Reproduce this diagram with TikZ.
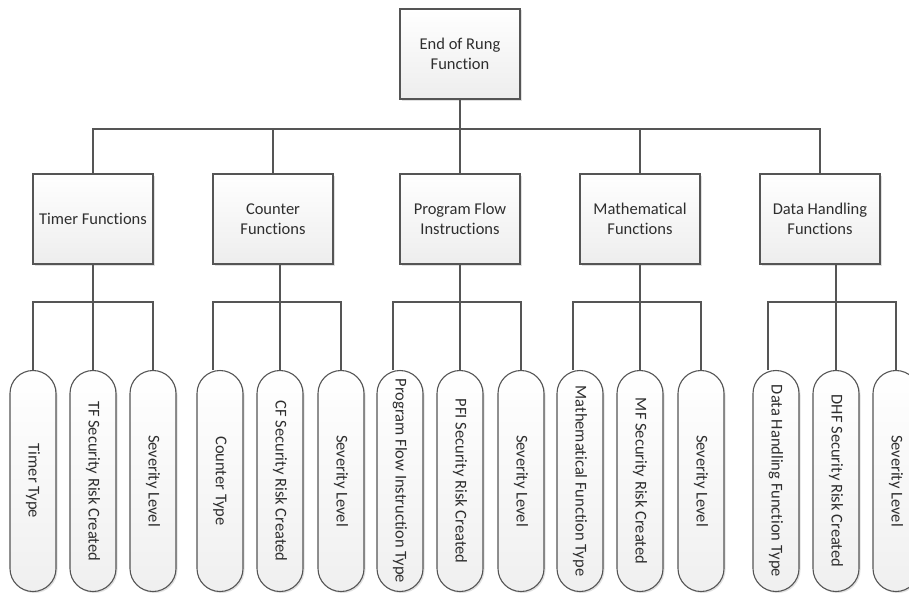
\documentclass[tikz,border=0pt]{standalone}
\usepackage{fontspec}
\setmainfont{Carlito}[Ligatures={NoCommon}]
\usetikzlibrary{shapes.misc,shadows}
\definecolor{txt}{HTML}{2E2E2E}
\definecolor{ln}{HTML}{555555}
\begin{document}
\begin{tikzpicture}[x=1pt,y=-1pt,
  lbl/.style={text=txt, font=\fontsize{16.5}{20}\selectfont},
  box/.style={lbl, draw=ln, line width=1.1pt, top color=white, bottom color=gray!14,
    minimum width=120pt, minimum height=90pt, align=center, inner sep=2pt,
    drop shadow={shadow xshift=1.5pt, shadow yshift=-1.5pt, fill=black, opacity=0.12}},
  pill/.style={lbl, rounded rectangle, draw=ln, line width=1.1pt, top color=white, bottom color=gray!12,
    minimum width=223pt, minimum height=46pt, inner sep=1pt, rotate=-90,
    drop shadow={shadow xshift=1.5pt, shadow yshift=-1.5pt, fill=black, opacity=0.12}},
  conn/.style={draw=ln, line width=1.1pt}]
\clip (0,0) rectangle (909,594);
\fill[white] (0,0) rectangle (909,594);

% nodes
\node[box] (top) at (460,54) {End of Rung\\Function};
\node[box] (l1) at (93,219) {Timer Functions};
\node[box] (l2) at (273,219) {Counter\\Functions};
\node[box] (l3) at (460,219) {Program Flow\\Instructions};
\node[box] (l4) at (640,219) {Mathematical\\Functions};
\node[box] (l5) at (820,219) {Data Handling\\Functions};

\node[pill] (t1) at (33,481) {Timer Type};
\node[pill] (t2) at (93,481) {TF Security Risk Created};
\node[pill] (t3) at (153,481) {Severity Level};

\node[pill] (c1) at (220,481) {Counter Type};
\node[pill] (c2) at (280,481) {CF Security Risk Created};
\node[pill] (c3) at (341,481) {Severity Level};

\node[pill] (p1) at (400,481) {Program Flow Instruction Type};
\node[pill] (p2) at (460,481) {PFI Security Risk Created};
\node[pill] (p3) at (521,481) {Severity Level};

\node[pill] (m1) at (580,481) {Mathematical Function Type};
\node[pill] (m2) at (640,481) {MF Security Risk Created};
\node[pill] (m3) at (701,481) {Severity Level};

\node[pill] (d1) at (776,481) {Data Handling Function Type};
\node[pill] (d2) at (836,481) {DHF Security Risk Created};
\node[pill] (d3) at (896,481) {Severity Level};

% top level connectors
\coordinate (tb) at (460,129);
\draw[conn] (top.south) -- (tb);
\draw[conn] (l1.north) |- (tb) -| (l5.north);
\draw[conn] (l2.north) -- (l2.north |- tb);
\draw[conn] (l3.north) -- (tb);
\draw[conn] (l4.north) -- (l4.north |- tb);

% group connectors
\coordinate (g1a) at (33,302);  \coordinate (g1b) at (93,302);  \coordinate (g1c) at (153,302);
\coordinate (g2a) at (213,302); \coordinate (g2b) at (280,302); \coordinate (g2c) at (341,302);
\coordinate (g3a) at (393,302); \coordinate (g3b) at (460,302); \coordinate (g3c) at (521,302);
\coordinate (g4a) at (573,302); \coordinate (g4b) at (640,302); \coordinate (g4c) at (701,302);
\coordinate (g5a) at (768,302); \coordinate (g5b) at (836,302); \coordinate (g5c) at (896,302);

\draw[conn] (g1b |- l1.south) -- (g1b);
\draw[conn] (g1a |- t1.west) -- (g1a) -- (g1c) -- (g1c |- t3.west);
\draw[conn] (g1b) -- (g1b |- t2.west);

\draw[conn] (g2b |- l2.south) -- (g2b);
\draw[conn] (g2a |- c1.west) -- (g2a) -- (g2c) -- (g2c |- c3.west);
\draw[conn] (g2b) -- (g2b |- c2.west);

\draw[conn] (g3b |- l3.south) -- (g3b);
\draw[conn] (g3a |- p1.west) -- (g3a) -- (g3c) -- (g3c |- p3.west);
\draw[conn] (g3b) -- (g3b |- p2.west);

\draw[conn] (g4b |- l4.south) -- (g4b);
\draw[conn] (g4a |- m1.west) -- (g4a) -- (g4c) -- (g4c |- m3.west);
\draw[conn] (g4b) -- (g4b |- m2.west);

\draw[conn] (g5b |- l5.south) -- (g5b);
\draw[conn] (g5a |- d1.west) -- (g5a) -- (g5c) -- (g5c |- d3.west);
\draw[conn] (g5b) -- (g5b |- d2.west);
\end{tikzpicture}
\end{document}
